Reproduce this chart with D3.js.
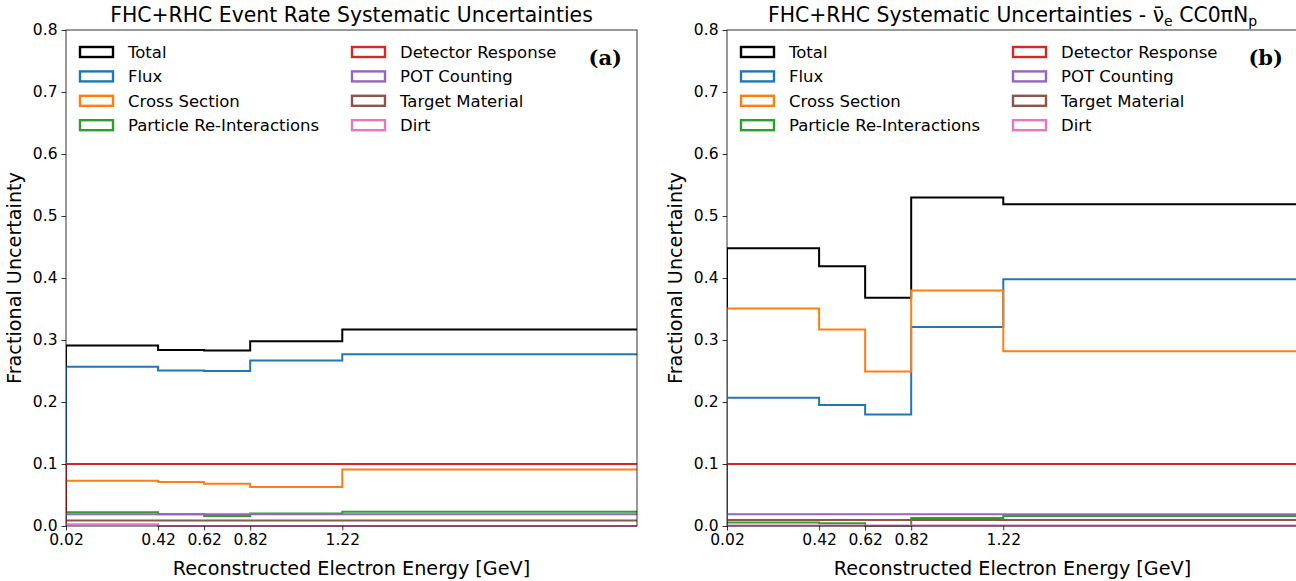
<!DOCTYPE html>
<html>
<head>
<meta charset="utf-8">
<script src="https://cdn.jsdelivr.net/npm/d3@7"></script>
<style>
  body { margin: 0; background: #fff; }
  text { font-family: "DejaVu Sans", sans-serif; fill: #000; }
</style>
</head>
<body>
<svg id="fig" width="1296" height="581"></svg>
<script>
// bin edges (GeV), axis limit and tick labels
const binEdges = [0.02, 0.42, 0.62, 0.82, 1.22, 3.02];
const xMax = 2.5;
const tickVals = [0.02, 0.42, 0.62, 0.82, 1.22];
const yTicks = [0, 0.1, 0.2, 0.3, 0.4, 0.5, 0.6, 0.7, 0.8];

const categories = ["Total", "Flux", "Cross Section", "Particle Re-Interactions",
  "Detector Response", "POT Counting", "Target Material", "Dirt"];
const colors = ["#000000", "#1f77b4", "#ff7f0e", "#2ca02c",
  "#d62728", "#9467bd", "#8c564b", "#e377c2"];

// panel (a): event rate
const aTotal = [0.291, 0.284, 0.283, 0.298, 0.317];
const aFlux = [0.257, 0.251, 0.250, 0.267, 0.277];
const aXsec = [0.073, 0.071, 0.068, 0.063, 0.091];
const aReint = [0.022, 0.019, 0.016, 0.020, 0.023];
const aDet = [0.100, 0.100, 0.100, 0.100, 0.100];
const aPot = [0.019, 0.019, 0.019, 0.019, 0.019];
const aTarget = [0.009, 0.009, 0.009, 0.009, 0.009];
const aDirt = [0.003, 0.000, 0.000, 0.000, 0.000];

// panel (b): nue-bar CC0piNp
const bTotal = [0.448, 0.419, 0.368, 0.530, 0.519];
const bFlux = [0.207, 0.195, 0.180, 0.321, 0.398];
const bXsec = [0.351, 0.317, 0.249, 0.380, 0.282];
const bReint = [0.0055, 0.0043, 0.000, 0.013, 0.016];
const bDet = [0.100, 0.100, 0.100, 0.100, 0.100];
const bPot = [0.019, 0.019, 0.019, 0.019, 0.019];
const bTarget = [0.0095, 0.0095, 0.0095, 0.0095, 0.0095];
const bDirt = [0.001, 0.001, 0.001, 0.001, 0.001];

const panels = [
  { left: 66, title: "a", label: "(a)",
    series: [aTotal, aFlux, aXsec, aReint, aDet, aPot, aTarget, aDirt] },
  { left: 727, title: "b", label: "(b)",
    series: [bTotal, bFlux, bXsec, bReint, bDet, bPot, bTarget, bDirt] }
];

const svg = d3.select("#fig");
const W = 571, yTop = 30, yBottom = 526;

panels.forEach((p) => {
  const x = d3.scaleLinear().domain([binEdges[0], xMax]).range([p.left, p.left + W]);
  const y = d3.scaleLinear().domain([0, 0.8]).range([yBottom, yTop]);
  const g = svg.append("g");

  const clipId = "clip" + p.title;
  svg.append("clipPath").attr("id", clipId)
    .append("rect").attr("x", p.left).attr("y", yTop - 2).attr("width", W).attr("height", yBottom - yTop + 4);

  const line = d3.line().x((d) => x(d[0])).y((d) => y(d[1]));

  // step histograms
  p.series.forEach((vals, i) => {
    const pts = [[binEdges[0], 0]];
    vals.forEach((v, j) => {
      pts.push([binEdges[j], v]);
      pts.push([binEdges[j + 1], v]);
    });
    pts.push([binEdges[binEdges.length - 1], 0]);
    g.append("path")
      .attr("d", line(pts))
      .attr("fill", "none")
      .attr("stroke", colors[i])
      .attr("stroke-width", 2)
      .attr("stroke-linejoin", "miter")
      .attr("clip-path", "url(#" + clipId + ")");
  });

  // frame
  g.append("rect")
    .attr("x", p.left).attr("y", yTop).attr("width", W).attr("height", yBottom - yTop)
    .attr("fill", "none").attr("stroke", "#000").attr("stroke-width", 0.8);

  // axes
  const xAxis = d3.axisBottom(x).tickValues(tickVals).tickFormat(d3.format(".2f")).tickSize(4.5).tickPadding(3);
  const gx = g.append("g").attr("transform", `translate(0,${yBottom})`).call(xAxis);
  const yAxis = d3.axisLeft(y).tickValues(yTicks).tickFormat(d3.format(".1f")).tickSize(4.5).tickPadding(4);
  const gy = g.append("g").attr("transform", `translate(${p.left},0)`).call(yAxis);
  [gx, gy].forEach((a) => {
    a.select(".domain").remove();
    a.selectAll(".tick line").attr("stroke", "#000").attr("stroke-width", 0.8);
    a.selectAll(".tick text").style("font-family", "DejaVu Sans").style("font-size", "15.5px").attr("fill", "#000");
  });

  // axis titles
  g.append("text")
    .attr("x", p.left + W / 2).attr("y", 575)
    .attr("text-anchor", "middle").style("font-size", "19.2px")
    .text("Reconstructed Electron Energy [GeV]");
  g.append("text")
    .attr("transform", `translate(${p.left - 45},${(yTop + yBottom) / 2}) rotate(-90)`)
    .attr("text-anchor", "middle").style("font-size", "19.2px")
    .text("Fractional Uncertainty");

  // title
  const t = g.append("text")
    .attr("x", p.left + W / 2).attr("y", 22)
    .attr("text-anchor", "middle").style("font-size", "20.4px");
  if (p.title === "a") {
    t.text("FHC+RHC Event Rate Systematic Uncertainties");
  } else {
    t.append("tspan").text("FHC+RHC Systematic Uncertainties - \u03bd\u0304");
    t.append("tspan").attr("dy", 4).style("font-size", "14px").text("e");
    t.append("tspan").attr("dy", -4).text(" CC0\u03c0N");
    t.append("tspan").attr("dy", 4).style("font-size", "14px").text("p");
  }

  // panel label
  g.append("text")
    .attr("x", p.left + W - 15).attr("y", 65)
    .attr("text-anchor", "end")
    .style("font-family", "'DejaVu Serif', serif").style("font-weight", "bold").style("font-size", "21px")
    .text(p.label);

  // legend
  const leg = g.append("g");
  categories.forEach((c, i) => {
    const col = Math.floor(i / 4), row = i % 4;
    const lx = p.left + 14 + col * 272;
    const ly = 52 + row * 24.4;
    leg.append("rect")
      .attr("x", lx).attr("y", ly - 5).attr("width", 33).attr("height", 10)
      .attr("fill", "none").attr("stroke", colors[i]).attr("stroke-width", 2.4);
    leg.append("text")
      .attr("x", lx + 48).attr("y", ly + 6)
      .style("font-size", "16.5px")
      .text(c);
  });
});
</script>
</body>
</html>
